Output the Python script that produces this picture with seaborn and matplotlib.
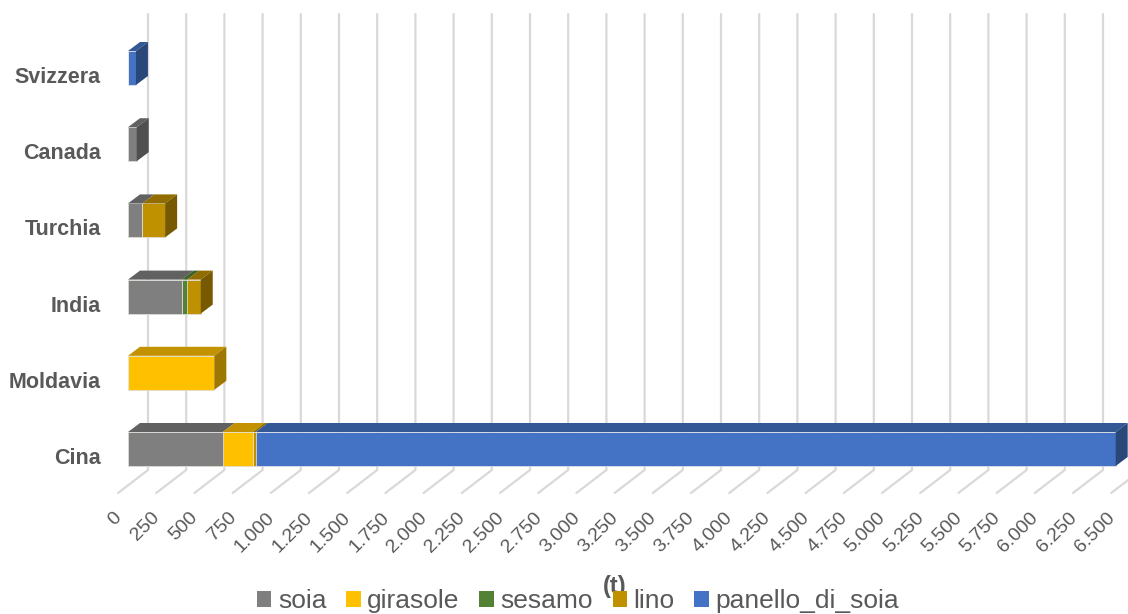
import numpy as np
import pandas as pd
import matplotlib
matplotlib.use('Agg')
import matplotlib.pyplot as plt
import matplotlib.transforms as mtransforms
from matplotlib.patches import Polygon, Patch
import seaborn as sns

# Data (t)
countries = ['Svizzera', 'Canada', 'Turchia', 'India', 'Moldavia', 'Cina']
series = ['soia', 'girasole', 'sesamo', 'lino', 'panello_di_soia']
soia = [0, 57, 94, 351, 0, 620]
girasole = [0, 0, 0, 0, 565, 196]
sesamo = [0, 0, 0, 37, 0, 0]
lino = [0, 0, 149, 88, 0, 20]
panello_di_soia = [52, 0, 0, 0, 0, 5628]
x_ticks = list(range(0, 6501, 250))

colors = {'soia': '#7f7f7f', 'girasole': '#ffc000', 'sesamo': '#548235',
          'lino': '#bf9000', 'panello_di_soia': '#4472c4'}

df = pd.DataFrame({'paese': countries, 'soia': soia, 'girasole': girasole,
                   'sesamo': sesamo, 'lino': lino, 'panello_di_soia': panello_di_soia})

sns.set_theme(style='white')
plt.rcParams['font.family'] = ['Liberation Sans', 'DejaVu Sans']

W, H = 1128, 614
fig = plt.figure(figsize=(W / 100, H / 100), dpi=100)
# axes in pixel layout: x=0 at px 128, y from px 14 to px 493
ax_left, ax_top, ax_bot = 128, 14, 493
ux = 0.1528          # px per tonne
uy = 76.2            # px per category
y0 = 68              # px of first category centre
ax_w = 6500 * ux
ax = fig.add_axes([ax_left / W, 1 - ax_bot / H, ax_w / W, (ax_bot - ax_top) / H])

bar_h = 34 / uy
cum = df[series].cumsum(axis=1)

# stacked bars: draw cumulative totals from last to first
for s in reversed(series):
    sns.barplot(x=cum[s], y=df['paese'], orient='h', color=colors[s], saturation=1,
                width=bar_h, ax=ax, zorder=3, linewidth=0.5, edgecolor='#e8e8e8')

ax.set_xlim(0, 6500)
ax.set_ylim((ax_bot - y0) / uy, (ax_top - y0) / uy)


def shade(c, f):
    r, g, b = matplotlib.colors.to_rgb(c)
    return (r * f, g * f, b * f)


# 3D faces (top and right side) of each bar
dx = 12 / ux
dy = 9 / uy
for i, row in df.iterrows():
    left = 0
    yt = i - bar_h / 2
    yb = i + bar_h / 2
    last = None
    for s in series:
        v = row[s]
        if v <= 0:
            continue
        r = left + v
        top = Polygon([(left, yt), (r, yt), (r + dx, yt - dy), (left + dx, yt - dy)],
                      closed=True, facecolor=shade(colors[s], 0.76), edgecolor='none',
                      zorder=3, clip_on=False)
        ax.add_patch(top)
        last = (s, r)
        left = r
    if last is not None:
        s, r = last
        side = Polygon([(r, yt), (r + dx, yt - dy), (r + dx, yb - dy), (r, yb)],
                       closed=True, facecolor=shade(colors[s], 0.62), edgecolor='none',
                       zorder=3, clip_on=False)
        ax.add_patch(side)

# back wall gridlines + floor lines
back_dx = 20 / ux
front_dx = -10 / ux
floor_back = (470 - y0) / uy
floor_front = (ax_bot - y0) / uy
top_y = (ax_top - y0) / uy
for t in x_ticks:
    ax.plot([t + back_dx, t + back_dx, t + front_dx], [top_y, floor_back, floor_front],
            color='#d9d9d9', lw=1.6, zorder=1, clip_on=False)

for sp in ax.spines.values():
    sp.set_visible(False)
ax.grid(False)
ax.set_xlabel('')
ax.set_ylabel('')

# y tick labels
ax.tick_params(axis='y', length=0, pad=19.4)
for lab in ax.get_yticklabels():
    lab.set_fontweight('bold')
    lab.set_fontsize(15.5)
    lab.set_color('#595959')
    lab.set_transform(lab.get_transform() +
                      mtransforms.ScaledTranslation(0, -7 / 100, fig.dpi_scale_trans))

# x tick labels
ax.set_xticks(x_ticks)
ax.set_xticklabels([f'{t:,}'.replace(',', '.') for t in x_ticks])
ax.tick_params(axis='x', length=0, pad=16)
for lab in ax.get_xticklabels():
    lab.set_rotation(45)
    lab.set_rotation_mode('anchor')
    lab.set_ha('right')
    lab.set_va('center')
    lab.set_fontsize(14)
    lab.set_color('#595959')
    lab.set_transform(lab.get_transform() +
                      mtransforms.ScaledTranslation(-9 / 100, 0, fig.dpi_scale_trans))

fig.text(615 / W, 1 - 586 / H, '(t)', ha='center', va='center', fontsize=17,
         fontweight='bold', color='#595959')

handles = [Patch(facecolor=colors[s], edgecolor='none', label=s) for s in series]
fig.legend(handles=handles, loc='center', bbox_to_anchor=(578 / W, 1 - 601 / H), ncol=5,
           frameon=False, fontsize=19, handlelength=0.54, handleheight=0.54,
           handletextpad=0.25, columnspacing=0.75, labelcolor='#595959',
           borderaxespad=0, borderpad=0)

fig.savefig('out.png', dpi=100)
